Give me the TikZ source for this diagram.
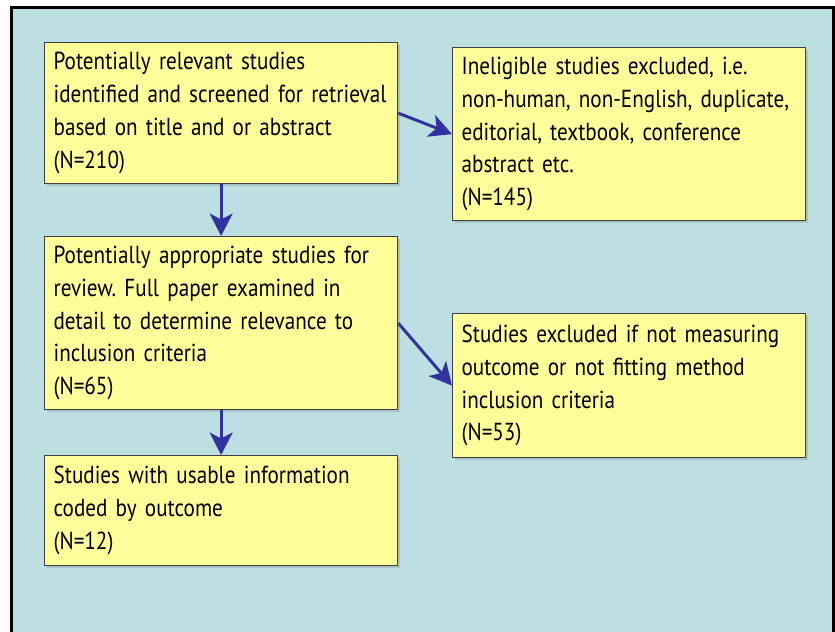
\documentclass[tikz,border=0pt]{standalone}
\usepackage{fontspec}
\setmainfont[FakeStretch=0.86]{PT Sans}
\usetikzlibrary{arrows.meta,positioning,shadows}
\definecolor{bgblue}{RGB}{188,223,226}
\definecolor{boxyellow}{RGB}{255,253,153}
\definecolor{arrblue}{RGB}{50,50,160}
\frenchspacing

\begin{document}
\begin{tikzpicture}[
    box/.style={draw=black!75, line width=0.7pt, fill=boxyellow, anchor=north west, minimum width=7.06cm, text width=6.7cm, align=left, inner xsep=0.18cm, font=\fontsize{14}{18.7}\selectfont, drop shadow={shadow xshift=0.05cm, shadow yshift=-0.05cm, opacity=0.3}},
    arr/.style={-{Stealth[length=0.45cm, width=0.46cm, inset=0.12cm]}, line width=1.7pt, draw=arrblue, fill=arrblue}
]
\useasboundingbox (0,0) rectangle (16.7,12.64);
\clip (0,0) rectangle (16.7,12.64);
\draw[line width=0.06cm, fill=bgblue] (0.23,-0.5) rectangle (16.67,12.49);

\node[box, minimum height=2.82cm] (ident) at (0.88,11.80) {Potentially relevant studies\\identified and screened for retrieval\\based on title and or abstract\\(N=210)};
\node[box, minimum height=3.46cm, minimum width=7.0cm] (excl) at (9.04,11.70) {Ineligible studies excluded, i.e.\\non-human, non-English, duplicate,\\editorial, textbook, conference\\abstract etc.\\(N=145)};
\node[box, minimum height=3.46cm] (appr) at (0.88,7.92) {Potentially appropriate studies for\\review. Full paper examined in\\detail to determine relevance to\\inclusion criteria\\(N=65)};
\node[box, minimum height=2.88cm, minimum width=7.0cm] (notmeas) at (9.04,6.38) {Studies excluded if not measuring\\outcome or not fitting method\\inclusion criteria\\(N=53)};
\node[box, minimum height=2.2cm] (usable) at (0.88,3.54) {Studies with usable information\\coded by outcome\\(N=12)};

\draw[arr] (ident.south) -- (appr.north);
\draw[arr] (appr.south) -- (usable.north);
\draw[arr] (ident.east) -- (excl.west);
\draw[arr] (appr.east) -- (notmeas.west);
\end{tikzpicture}
\end{document}
